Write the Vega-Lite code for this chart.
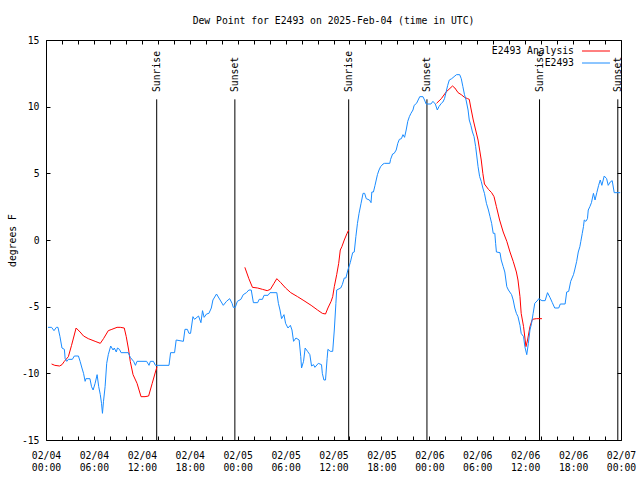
{
  "$schema": "https://vega.github.io/schema/vega-lite/v6.json",
  "width": 575,
  "height": 400,
  "autosize": {"type": "none"},
  "padding": {"left": 46, "top": 40, "right": 19, "bottom": 40},
  "background": "white",
  "title": {"text": "Dew Point for E2493 on 2025-Feb-04 (time in UTC)", "font": "DejaVu Sans Mono", "fontSize": 9.75, "fontWeight": "normal", "color": "black", "baseline": "alphabetic", "offset": 1},
  "config": {
    "view": {"stroke": "black", "strokeWidth": 1},
    "font": "DejaVu Sans Mono",
    "axis": {"labelFont": "DejaVu Sans Mono", "labelFontSize": 9.75, "labelColor": "black", "titleFont": "DejaVu Sans Mono", "titleFontSize": 9.75, "titleFontWeight": "normal", "titleColor": "black", "tickColor": "black", "tickWidth": 1, "domain": false, "grid": false}
  },
  "datasets": {
    "events": [
      {"h": 13.86, "ev": "Sunrise"}, {"h": 23.65, "ev": "Sunset"},
      {"h": 37.9, "ev": "Sunrise"}, {"h": 47.7, "ev": "Sunset"},
      {"h": 61.8, "ev": "Sunrise"}, {"h": 71.6, "ev": "Sunset"}
    ],
    "dew": [
      {"h": 0.7, "v": -9.3, "s": "E2493 Analysis", "g": "a1"},
      {"h": 1.1, "v": -9.4, "s": "E2493 Analysis", "g": "a1"},
      {"h": 1.7, "v": -9.45, "s": "E2493 Analysis", "g": "a1"},
      {"h": 2.0, "v": -9.35, "s": "E2493 Analysis", "g": "a1"},
      {"h": 2.3, "v": -9.1, "s": "E2493 Analysis", "g": "a1"},
      {"h": 2.8, "v": -8.75, "s": "E2493 Analysis", "g": "a1"},
      {"h": 3.2, "v": -7.9, "s": "E2493 Analysis", "g": "a1"},
      {"h": 3.77, "v": -6.6, "s": "E2493 Analysis", "g": "a1"},
      {"h": 4.27, "v": -6.9, "s": "E2493 Analysis", "g": "a1"},
      {"h": 4.7, "v": -7.2, "s": "E2493 Analysis", "g": "a1"},
      {"h": 5.3, "v": -7.4, "s": "E2493 Analysis", "g": "a1"},
      {"h": 6.15, "v": -7.6, "s": "E2493 Analysis", "g": "a1"},
      {"h": 6.8, "v": -7.75, "s": "E2493 Analysis", "g": "a1"},
      {"h": 7.2, "v": -7.4, "s": "E2493 Analysis", "g": "a1"},
      {"h": 7.8, "v": -6.8, "s": "E2493 Analysis", "g": "a1"},
      {"h": 8.25, "v": -6.7, "s": "E2493 Analysis", "g": "a1"},
      {"h": 8.9, "v": -6.55, "s": "E2493 Analysis", "g": "a1"},
      {"h": 9.3, "v": -6.55, "s": "E2493 Analysis", "g": "a1"},
      {"h": 9.8, "v": -6.6, "s": "E2493 Analysis", "g": "a1"},
      {"h": 10.05, "v": -7.25, "s": "E2493 Analysis", "g": "a1"},
      {"h": 10.35, "v": -8.25, "s": "E2493 Analysis", "g": "a1"},
      {"h": 10.55, "v": -9.1, "s": "E2493 Analysis", "g": "a1"},
      {"h": 10.9, "v": -10.1, "s": "E2493 Analysis", "g": "a1"},
      {"h": 11.4, "v": -10.75, "s": "E2493 Analysis", "g": "a1"},
      {"h": 11.9, "v": -11.75, "s": "E2493 Analysis", "g": "a1"},
      {"h": 12.4, "v": -11.75, "s": "E2493 Analysis", "g": "a1"},
      {"h": 12.85, "v": -11.7, "s": "E2493 Analysis", "g": "a1"},
      {"h": 13.3, "v": -10.75, "s": "E2493 Analysis", "g": "a1"},
      {"h": 13.7, "v": -9.9, "s": "E2493 Analysis", "g": "a1"},
      {"h": 13.9, "v": -9.5, "s": "E2493 Analysis", "g": "a1"},
      {"h": 24.9, "v": -2.05, "s": "E2493 Analysis", "g": "a2"},
      {"h": 25.4, "v": -2.9, "s": "E2493 Analysis", "g": "a2"},
      {"h": 25.85, "v": -3.55, "s": "E2493 Analysis", "g": "a2"},
      {"h": 26.5, "v": -3.6, "s": "E2493 Analysis", "g": "a2"},
      {"h": 27.1, "v": -3.7, "s": "E2493 Analysis", "g": "a2"},
      {"h": 27.7, "v": -3.8, "s": "E2493 Analysis", "g": "a2"},
      {"h": 28.1, "v": -3.7, "s": "E2493 Analysis", "g": "a2"},
      {"h": 28.55, "v": -3.25, "s": "E2493 Analysis", "g": "a2"},
      {"h": 28.9, "v": -2.9, "s": "E2493 Analysis", "g": "a2"},
      {"h": 29.4, "v": -3.2, "s": "E2493 Analysis", "g": "a2"},
      {"h": 30.0, "v": -3.6, "s": "E2493 Analysis", "g": "a2"},
      {"h": 30.65, "v": -3.95, "s": "E2493 Analysis", "g": "a2"},
      {"h": 31.5, "v": -4.25, "s": "E2493 Analysis", "g": "a2"},
      {"h": 32.3, "v": -4.55, "s": "E2493 Analysis", "g": "a2"},
      {"h": 33.2, "v": -4.9, "s": "E2493 Analysis", "g": "a2"},
      {"h": 34.0, "v": -5.25, "s": "E2493 Analysis", "g": "a2"},
      {"h": 34.6, "v": -5.5, "s": "E2493 Analysis", "g": "a2"},
      {"h": 35.0, "v": -5.55, "s": "E2493 Analysis", "g": "a2"},
      {"h": 35.3, "v": -5.1, "s": "E2493 Analysis", "g": "a2"},
      {"h": 35.7, "v": -4.6, "s": "E2493 Analysis", "g": "a2"},
      {"h": 35.9, "v": -4.25, "s": "E2493 Analysis", "g": "a2"},
      {"h": 36.1, "v": -3.5, "s": "E2493 Analysis", "g": "a2"},
      {"h": 36.4, "v": -2.6, "s": "E2493 Analysis", "g": "a2"},
      {"h": 36.65, "v": -1.75, "s": "E2493 Analysis", "g": "a2"},
      {"h": 36.85, "v": -0.75, "s": "E2493 Analysis", "g": "a2"},
      {"h": 37.05, "v": -0.5, "s": "E2493 Analysis", "g": "a2"},
      {"h": 37.35, "v": 0.0, "s": "E2493 Analysis", "g": "a2"},
      {"h": 37.7, "v": 0.5, "s": "E2493 Analysis", "g": "a2"},
      {"h": 37.9, "v": 0.75, "s": "E2493 Analysis", "g": "a2"},
      {"h": 48.9, "v": 10.25, "s": "E2493 Analysis", "g": "a3"},
      {"h": 49.5, "v": 10.6, "s": "E2493 Analysis", "g": "a3"},
      {"h": 50.1, "v": 11.1, "s": "E2493 Analysis", "g": "a3"},
      {"h": 50.9, "v": 11.55, "s": "E2493 Analysis", "g": "a3"},
      {"h": 51.2, "v": 11.4, "s": "E2493 Analysis", "g": "a3"},
      {"h": 51.6, "v": 11.05, "s": "E2493 Analysis", "g": "a3"},
      {"h": 52.0, "v": 10.9, "s": "E2493 Analysis", "g": "a3"},
      {"h": 52.4, "v": 10.7, "s": "E2493 Analysis", "g": "a3"},
      {"h": 52.8, "v": 10.6, "s": "E2493 Analysis", "g": "a3"},
      {"h": 53.0, "v": 10.55, "s": "E2493 Analysis", "g": "a3"},
      {"h": 53.2, "v": 9.9, "s": "E2493 Analysis", "g": "a3"},
      {"h": 53.5, "v": 9.0, "s": "E2493 Analysis", "g": "a3"},
      {"h": 53.8, "v": 8.25, "s": "E2493 Analysis", "g": "a3"},
      {"h": 54.1, "v": 7.5, "s": "E2493 Analysis", "g": "a3"},
      {"h": 54.3, "v": 6.75, "s": "E2493 Analysis", "g": "a3"},
      {"h": 54.5, "v": 6.0, "s": "E2493 Analysis", "g": "a3"},
      {"h": 54.7, "v": 5.0, "s": "E2493 Analysis", "g": "a3"},
      {"h": 54.9, "v": 4.2, "s": "E2493 Analysis", "g": "a3"},
      {"h": 55.4, "v": 3.8, "s": "E2493 Analysis", "g": "a3"},
      {"h": 55.8, "v": 3.55, "s": "E2493 Analysis", "g": "a3"},
      {"h": 56.1, "v": 3.25, "s": "E2493 Analysis", "g": "a3"},
      {"h": 56.4, "v": 2.5, "s": "E2493 Analysis", "g": "a3"},
      {"h": 56.8, "v": 1.5, "s": "E2493 Analysis", "g": "a3"},
      {"h": 57.25, "v": 0.6, "s": "E2493 Analysis", "g": "a3"},
      {"h": 57.7, "v": -0.1, "s": "E2493 Analysis", "g": "a3"},
      {"h": 58.1, "v": -0.9, "s": "E2493 Analysis", "g": "a3"},
      {"h": 58.5, "v": -1.6, "s": "E2493 Analysis", "g": "a3"},
      {"h": 58.9, "v": -2.4, "s": "E2493 Analysis", "g": "a3"},
      {"h": 59.1, "v": -3.0, "s": "E2493 Analysis", "g": "a3"},
      {"h": 59.35, "v": -4.25, "s": "E2493 Analysis", "g": "a3"},
      {"h": 59.5, "v": -5.5, "s": "E2493 Analysis", "g": "a3"},
      {"h": 59.8, "v": -6.5, "s": "E2493 Analysis", "g": "a3"},
      {"h": 60.0, "v": -7.5, "s": "E2493 Analysis", "g": "a3"},
      {"h": 60.1, "v": -8.0, "s": "E2493 Analysis", "g": "a3"},
      {"h": 60.3, "v": -7.5, "s": "E2493 Analysis", "g": "a3"},
      {"h": 60.6, "v": -6.5, "s": "E2493 Analysis", "g": "a3"},
      {"h": 60.9, "v": -5.95, "s": "E2493 Analysis", "g": "a3"},
      {"h": 61.4, "v": -5.9, "s": "E2493 Analysis", "g": "a3"},
      {"h": 62.1, "v": -5.9, "s": "E2493 Analysis", "g": "a3"},
      {"h": 0.25, "v": -6.55, "s": "E2493", "g": "b"},
      {"h": 0.7, "v": -6.55, "s": "E2493", "g": "b"},
      {"h": 1.0, "v": -6.8, "s": "E2493", "g": "b"},
      {"h": 1.3, "v": -6.55, "s": "E2493", "g": "b"},
      {"h": 1.5, "v": -6.55, "s": "E2493", "g": "b"},
      {"h": 1.75, "v": -7.25, "s": "E2493", "g": "b"},
      {"h": 2.0, "v": -8.1, "s": "E2493", "g": "b"},
      {"h": 2.3, "v": -8.2, "s": "E2493", "g": "b"},
      {"h": 2.4, "v": -8.9, "s": "E2493", "g": "b"},
      {"h": 2.6, "v": -9.1, "s": "E2493", "g": "b"},
      {"h": 2.8, "v": -8.95, "s": "E2493", "g": "b"},
      {"h": 3.3, "v": -8.95, "s": "E2493", "g": "b"},
      {"h": 3.55, "v": -8.7, "s": "E2493", "g": "b"},
      {"h": 4.06, "v": -8.7, "s": "E2493", "g": "b"},
      {"h": 4.27, "v": -9.1, "s": "E2493", "g": "b"},
      {"h": 4.5, "v": -9.6, "s": "E2493", "g": "b"},
      {"h": 4.7, "v": -10.0, "s": "E2493", "g": "b"},
      {"h": 4.9, "v": -10.6, "s": "E2493", "g": "b"},
      {"h": 5.0, "v": -10.4, "s": "E2493", "g": "b"},
      {"h": 5.5, "v": -10.4, "s": "E2493", "g": "b"},
      {"h": 5.7, "v": -11.0, "s": "E2493", "g": "b"},
      {"h": 5.9, "v": -11.25, "s": "E2493", "g": "b"},
      {"h": 6.15, "v": -10.75, "s": "E2493", "g": "b"},
      {"h": 6.4, "v": -10.1, "s": "E2493", "g": "b"},
      {"h": 6.6, "v": -11.0, "s": "E2493", "g": "b"},
      {"h": 6.8, "v": -11.6, "s": "E2493", "g": "b"},
      {"h": 6.95, "v": -12.25, "s": "E2493", "g": "b"},
      {"h": 7.07, "v": -13.0, "s": "E2493", "g": "b"},
      {"h": 7.2, "v": -12.1, "s": "E2493", "g": "b"},
      {"h": 7.4, "v": -11.0, "s": "E2493", "g": "b"},
      {"h": 7.6, "v": -9.25, "s": "E2493", "g": "b"},
      {"h": 7.8, "v": -8.6, "s": "E2493", "g": "b"},
      {"h": 8.1, "v": -7.95, "s": "E2493", "g": "b"},
      {"h": 8.4, "v": -8.25, "s": "E2493", "g": "b"},
      {"h": 8.55, "v": -8.1, "s": "E2493", "g": "b"},
      {"h": 8.8, "v": -8.4, "s": "E2493", "g": "b"},
      {"h": 8.95, "v": -8.1, "s": "E2493", "g": "b"},
      {"h": 9.2, "v": -8.2, "s": "E2493", "g": "b"},
      {"h": 9.4, "v": -8.45, "s": "E2493", "g": "b"},
      {"h": 10.3, "v": -8.45, "s": "E2493", "g": "b"},
      {"h": 10.55, "v": -8.8, "s": "E2493", "g": "b"},
      {"h": 10.97, "v": -9.1, "s": "E2493", "g": "b"},
      {"h": 11.2, "v": -9.4, "s": "E2493", "g": "b"},
      {"h": 11.4, "v": -9.1, "s": "E2493", "g": "b"},
      {"h": 12.6, "v": -9.1, "s": "E2493", "g": "b"},
      {"h": 12.9, "v": -9.4, "s": "E2493", "g": "b"},
      {"h": 13.07, "v": -9.1, "s": "E2493", "g": "b"},
      {"h": 13.45, "v": -9.1, "s": "E2493", "g": "b"},
      {"h": 13.7, "v": -9.4, "s": "E2493", "g": "b"},
      {"h": 15.4, "v": -9.4, "s": "E2493", "g": "b"},
      {"h": 15.6, "v": -8.45, "s": "E2493", "g": "b"},
      {"h": 16.1, "v": -8.45, "s": "E2493", "g": "b"},
      {"h": 16.3, "v": -7.5, "s": "E2493", "g": "b"},
      {"h": 17.2, "v": -7.6, "s": "E2493", "g": "b"},
      {"h": 17.4, "v": -6.7, "s": "E2493", "g": "b"},
      {"h": 17.7, "v": -6.7, "s": "E2493", "g": "b"},
      {"h": 17.9, "v": -7.0, "s": "E2493", "g": "b"},
      {"h": 18.1, "v": -7.0, "s": "E2493", "g": "b"},
      {"h": 18.4, "v": -5.75, "s": "E2493", "g": "b"},
      {"h": 18.6, "v": -5.95, "s": "E2493", "g": "b"},
      {"h": 18.9, "v": -5.8, "s": "E2493", "g": "b"},
      {"h": 19.1, "v": -5.7, "s": "E2493", "g": "b"},
      {"h": 19.4, "v": -6.2, "s": "E2493", "g": "b"},
      {"h": 19.6, "v": -5.3, "s": "E2493", "g": "b"},
      {"h": 19.8, "v": -5.8, "s": "E2493", "g": "b"},
      {"h": 20.1, "v": -5.55, "s": "E2493", "g": "b"},
      {"h": 20.4, "v": -5.5, "s": "E2493", "g": "b"},
      {"h": 20.7, "v": -5.1, "s": "E2493", "g": "b"},
      {"h": 20.9, "v": -4.5, "s": "E2493", "g": "b"},
      {"h": 21.35, "v": -4.05, "s": "E2493", "g": "b"},
      {"h": 21.8, "v": -4.5, "s": "E2493", "g": "b"},
      {"h": 22.2, "v": -4.9, "s": "E2493", "g": "b"},
      {"h": 22.6, "v": -4.6, "s": "E2493", "g": "b"},
      {"h": 23.0, "v": -4.4, "s": "E2493", "g": "b"},
      {"h": 23.3, "v": -4.75, "s": "E2493", "g": "b"},
      {"h": 23.45, "v": -5.05, "s": "E2493", "g": "b"},
      {"h": 23.7, "v": -5.05, "s": "E2493", "g": "b"},
      {"h": 23.96, "v": -4.6, "s": "E2493", "g": "b"},
      {"h": 24.4, "v": -4.45, "s": "E2493", "g": "b"},
      {"h": 24.7, "v": -4.1, "s": "E2493", "g": "b"},
      {"h": 25.1, "v": -3.95, "s": "E2493", "g": "b"},
      {"h": 25.4, "v": -3.75, "s": "E2493", "g": "b"},
      {"h": 25.7, "v": -3.75, "s": "E2493", "g": "b"},
      {"h": 25.97, "v": -4.7, "s": "E2493", "g": "b"},
      {"h": 26.5, "v": -4.7, "s": "E2493", "g": "b"},
      {"h": 26.7, "v": -4.45, "s": "E2493", "g": "b"},
      {"h": 27.1, "v": -4.45, "s": "E2493", "g": "b"},
      {"h": 27.3, "v": -4.15, "s": "E2493", "g": "b"},
      {"h": 27.8, "v": -4.15, "s": "E2493", "g": "b"},
      {"h": 28.05, "v": -3.95, "s": "E2493", "g": "b"},
      {"h": 28.9, "v": -3.95, "s": "E2493", "g": "b"},
      {"h": 29.1, "v": -4.75, "s": "E2493", "g": "b"},
      {"h": 29.3, "v": -5.25, "s": "E2493", "g": "b"},
      {"h": 29.5, "v": -5.9, "s": "E2493", "g": "b"},
      {"h": 29.8, "v": -5.6, "s": "E2493", "g": "b"},
      {"h": 30.0, "v": -6.25, "s": "E2493", "g": "b"},
      {"h": 30.3, "v": -6.6, "s": "E2493", "g": "b"},
      {"h": 30.6, "v": -6.4, "s": "E2493", "g": "b"},
      {"h": 30.8, "v": -6.75, "s": "E2493", "g": "b"},
      {"h": 31.0, "v": -7.6, "s": "E2493", "g": "b"},
      {"h": 31.3, "v": -7.35, "s": "E2493", "g": "b"},
      {"h": 31.7, "v": -7.5, "s": "E2493", "g": "b"},
      {"h": 31.9, "v": -8.75, "s": "E2493", "g": "b"},
      {"h": 32.0, "v": -9.6, "s": "E2493", "g": "b"},
      {"h": 32.25, "v": -9.1, "s": "E2493", "g": "b"},
      {"h": 32.45, "v": -8.1, "s": "E2493", "g": "b"},
      {"h": 32.75, "v": -8.35, "s": "E2493", "g": "b"},
      {"h": 33.04, "v": -8.6, "s": "E2493", "g": "b"},
      {"h": 33.25, "v": -9.45, "s": "E2493", "g": "b"},
      {"h": 33.5, "v": -9.35, "s": "E2493", "g": "b"},
      {"h": 33.67, "v": -9.55, "s": "E2493", "g": "b"},
      {"h": 34.1, "v": -9.25, "s": "E2493", "g": "b"},
      {"h": 34.5, "v": -9.35, "s": "E2493", "g": "b"},
      {"h": 34.6, "v": -10.0, "s": "E2493", "g": "b"},
      {"h": 34.8, "v": -10.5, "s": "E2493", "g": "b"},
      {"h": 35.0, "v": -10.5, "s": "E2493", "g": "b"},
      {"h": 35.2, "v": -8.9, "s": "E2493", "g": "b"},
      {"h": 35.3, "v": -8.2, "s": "E2493", "g": "b"},
      {"h": 35.6, "v": -8.35, "s": "E2493", "g": "b"},
      {"h": 35.9, "v": -8.35, "s": "E2493", "g": "b"},
      {"h": 36.1, "v": -6.75, "s": "E2493", "g": "b"},
      {"h": 36.3, "v": -4.75, "s": "E2493", "g": "b"},
      {"h": 36.4, "v": -3.75, "s": "E2493", "g": "b"},
      {"h": 36.9, "v": -3.6, "s": "E2493", "g": "b"},
      {"h": 37.1, "v": -3.35, "s": "E2493", "g": "b"},
      {"h": 37.35, "v": -2.85, "s": "E2493", "g": "b"},
      {"h": 37.55, "v": -2.85, "s": "E2493", "g": "b"},
      {"h": 37.8, "v": -2.25, "s": "E2493", "g": "b"},
      {"h": 38.1, "v": -1.7, "s": "E2493", "g": "b"},
      {"h": 38.4, "v": -0.95, "s": "E2493", "g": "b"},
      {"h": 38.6, "v": -0.9, "s": "E2493", "g": "b"},
      {"h": 38.8, "v": 0.25, "s": "E2493", "g": "b"},
      {"h": 39.0, "v": 1.25, "s": "E2493", "g": "b"},
      {"h": 39.2, "v": 2.0, "s": "E2493", "g": "b"},
      {"h": 39.45, "v": 2.75, "s": "E2493", "g": "b"},
      {"h": 39.7, "v": 3.5, "s": "E2493", "g": "b"},
      {"h": 39.9, "v": 3.5, "s": "E2493", "g": "b"},
      {"h": 40.1, "v": 3.1, "s": "E2493", "g": "b"},
      {"h": 40.5, "v": 3.0, "s": "E2493", "g": "b"},
      {"h": 40.7, "v": 2.8, "s": "E2493", "g": "b"},
      {"h": 40.8, "v": 3.6, "s": "E2493", "g": "b"},
      {"h": 41.0, "v": 3.6, "s": "E2493", "g": "b"},
      {"h": 41.2, "v": 4.1, "s": "E2493", "g": "b"},
      {"h": 41.5, "v": 4.9, "s": "E2493", "g": "b"},
      {"h": 41.7, "v": 5.25, "s": "E2493", "g": "b"},
      {"h": 41.9, "v": 5.5, "s": "E2493", "g": "b"},
      {"h": 42.2, "v": 5.7, "s": "E2493", "g": "b"},
      {"h": 42.4, "v": 5.75, "s": "E2493", "g": "b"},
      {"h": 43.05, "v": 5.75, "s": "E2493", "g": "b"},
      {"h": 43.15, "v": 6.05, "s": "E2493", "g": "b"},
      {"h": 43.4, "v": 6.45, "s": "E2493", "g": "b"},
      {"h": 43.6, "v": 6.5, "s": "E2493", "g": "b"},
      {"h": 43.85, "v": 6.75, "s": "E2493", "g": "b"},
      {"h": 44.05, "v": 7.25, "s": "E2493", "g": "b"},
      {"h": 44.25, "v": 7.55, "s": "E2493", "g": "b"},
      {"h": 44.5, "v": 7.6, "s": "E2493", "g": "b"},
      {"h": 44.7, "v": 7.9, "s": "E2493", "g": "b"},
      {"h": 44.9, "v": 7.7, "s": "E2493", "g": "b"},
      {"h": 45.1, "v": 8.25, "s": "E2493", "g": "b"},
      {"h": 45.3, "v": 8.9, "s": "E2493", "g": "b"},
      {"h": 45.5, "v": 9.25, "s": "E2493", "g": "b"},
      {"h": 45.7, "v": 9.5, "s": "E2493", "g": "b"},
      {"h": 45.95, "v": 9.75, "s": "E2493", "g": "b"},
      {"h": 46.1, "v": 10.1, "s": "E2493", "g": "b"},
      {"h": 46.4, "v": 10.25, "s": "E2493", "g": "b"},
      {"h": 46.6, "v": 10.5, "s": "E2493", "g": "b"},
      {"h": 46.8, "v": 10.75, "s": "E2493", "g": "b"},
      {"h": 47.2, "v": 10.75, "s": "E2493", "g": "b"},
      {"h": 47.4, "v": 10.5, "s": "E2493", "g": "b"},
      {"h": 47.6, "v": 10.2, "s": "E2493", "g": "b"},
      {"h": 48.2, "v": 10.2, "s": "E2493", "g": "b"},
      {"h": 48.45, "v": 10.4, "s": "E2493", "g": "b"},
      {"h": 48.75, "v": 10.2, "s": "E2493", "g": "b"},
      {"h": 49.0, "v": 9.75, "s": "E2493", "g": "b"},
      {"h": 49.2, "v": 10.0, "s": "E2493", "g": "b"},
      {"h": 49.5, "v": 10.25, "s": "E2493", "g": "b"},
      {"h": 49.7, "v": 10.35, "s": "E2493", "g": "b"},
      {"h": 49.9, "v": 10.6, "s": "E2493", "g": "b"},
      {"h": 50.1, "v": 11.1, "s": "E2493", "g": "b"},
      {"h": 50.3, "v": 11.6, "s": "E2493", "g": "b"},
      {"h": 50.5, "v": 12.0, "s": "E2493", "g": "b"},
      {"h": 50.8, "v": 12.1, "s": "E2493", "g": "b"},
      {"h": 51.1, "v": 12.25, "s": "E2493", "g": "b"},
      {"h": 51.4, "v": 12.4, "s": "E2493", "g": "b"},
      {"h": 51.8, "v": 12.4, "s": "E2493", "g": "b"},
      {"h": 52.0, "v": 12.1, "s": "E2493", "g": "b"},
      {"h": 52.2, "v": 11.5, "s": "E2493", "g": "b"},
      {"h": 52.4, "v": 10.9, "s": "E2493", "g": "b"},
      {"h": 52.6, "v": 10.5, "s": "E2493", "g": "b"},
      {"h": 52.85, "v": 9.75, "s": "E2493", "g": "b"},
      {"h": 53.0, "v": 9.0, "s": "E2493", "g": "b"},
      {"h": 53.2, "v": 8.6, "s": "E2493", "g": "b"},
      {"h": 53.4, "v": 8.1, "s": "E2493", "g": "b"},
      {"h": 53.6, "v": 7.75, "s": "E2493", "g": "b"},
      {"h": 53.8, "v": 7.0, "s": "E2493", "g": "b"},
      {"h": 54.0, "v": 6.0, "s": "E2493", "g": "b"},
      {"h": 54.1, "v": 5.5, "s": "E2493", "g": "b"},
      {"h": 54.3, "v": 4.75, "s": "E2493", "g": "b"},
      {"h": 54.5, "v": 4.4, "s": "E2493", "g": "b"},
      {"h": 54.7, "v": 3.9, "s": "E2493", "g": "b"},
      {"h": 54.9, "v": 3.5, "s": "E2493", "g": "b"},
      {"h": 55.15, "v": 2.75, "s": "E2493", "g": "b"},
      {"h": 55.4, "v": 2.25, "s": "E2493", "g": "b"},
      {"h": 55.6, "v": 1.75, "s": "E2493", "g": "b"},
      {"h": 55.8, "v": 1.25, "s": "E2493", "g": "b"},
      {"h": 56.0, "v": 0.5, "s": "E2493", "g": "b"},
      {"h": 56.2, "v": 0.5, "s": "E2493", "g": "b"},
      {"h": 56.3, "v": -0.25, "s": "E2493", "g": "b"},
      {"h": 56.4, "v": -0.9, "s": "E2493", "g": "b"},
      {"h": 56.85, "v": -0.95, "s": "E2493", "g": "b"},
      {"h": 57.0, "v": -1.5, "s": "E2493", "g": "b"},
      {"h": 57.25, "v": -2.0, "s": "E2493", "g": "b"},
      {"h": 57.45, "v": -2.4, "s": "E2493", "g": "b"},
      {"h": 57.7, "v": -3.5, "s": "E2493", "g": "b"},
      {"h": 57.9, "v": -3.75, "s": "E2493", "g": "b"},
      {"h": 58.3, "v": -4.1, "s": "E2493", "g": "b"},
      {"h": 58.5, "v": -4.5, "s": "E2493", "g": "b"},
      {"h": 58.7, "v": -5.1, "s": "E2493", "g": "b"},
      {"h": 58.9, "v": -5.5, "s": "E2493", "g": "b"},
      {"h": 59.1, "v": -5.75, "s": "E2493", "g": "b"},
      {"h": 59.35, "v": -6.4, "s": "E2493", "g": "b"},
      {"h": 59.5, "v": -7.0, "s": "E2493", "g": "b"},
      {"h": 59.8, "v": -7.25, "s": "E2493", "g": "b"},
      {"h": 59.96, "v": -8.0, "s": "E2493", "g": "b"},
      {"h": 60.2, "v": -8.6, "s": "E2493", "g": "b"},
      {"h": 60.4, "v": -7.75, "s": "E2493", "g": "b"},
      {"h": 60.6, "v": -6.75, "s": "E2493", "g": "b"},
      {"h": 60.8, "v": -6.25, "s": "E2493", "g": "b"},
      {"h": 61.0, "v": -5.5, "s": "E2493", "g": "b"},
      {"h": 61.2, "v": -4.75, "s": "E2493", "g": "b"},
      {"h": 61.6, "v": -4.5, "s": "E2493", "g": "b"},
      {"h": 61.7, "v": -4.4, "s": "E2493", "g": "b"},
      {"h": 62.1, "v": -4.55, "s": "E2493", "g": "b"},
      {"h": 62.5, "v": -4.55, "s": "E2493", "g": "b"},
      {"h": 62.8, "v": -3.95, "s": "E2493", "g": "b"},
      {"h": 63.1, "v": -4.3, "s": "E2493", "g": "b"},
      {"h": 63.4, "v": -4.7, "s": "E2493", "g": "b"},
      {"h": 63.7, "v": -5.1, "s": "E2493", "g": "b"},
      {"h": 64.2, "v": -5.1, "s": "E2493", "g": "b"},
      {"h": 64.4, "v": -4.8, "s": "E2493", "g": "b"},
      {"h": 65.0, "v": -4.8, "s": "E2493", "g": "b"},
      {"h": 65.2, "v": -3.9, "s": "E2493", "g": "b"},
      {"h": 65.45, "v": -3.85, "s": "E2493", "g": "b"},
      {"h": 65.7, "v": -3.1, "s": "E2493", "g": "b"},
      {"h": 66.05, "v": -2.6, "s": "E2493", "g": "b"},
      {"h": 66.2, "v": -2.25, "s": "E2493", "g": "b"},
      {"h": 66.45, "v": -1.6, "s": "E2493", "g": "b"},
      {"h": 66.65, "v": -0.9, "s": "E2493", "g": "b"},
      {"h": 66.85, "v": -0.5, "s": "E2493", "g": "b"},
      {"h": 66.97, "v": -0.1, "s": "E2493", "g": "b"},
      {"h": 67.15, "v": 0.5, "s": "E2493", "g": "b"},
      {"h": 67.3, "v": 1.0, "s": "E2493", "g": "b"},
      {"h": 67.4, "v": 1.5, "s": "E2493", "g": "b"},
      {"h": 67.6, "v": 1.4, "s": "E2493", "g": "b"},
      {"h": 67.8, "v": 1.6, "s": "E2493", "g": "b"},
      {"h": 67.9, "v": 2.25, "s": "E2493", "g": "b"},
      {"h": 68.1, "v": 2.5, "s": "E2493", "g": "b"},
      {"h": 68.3, "v": 2.8, "s": "E2493", "g": "b"},
      {"h": 68.55, "v": 3.5, "s": "E2493", "g": "b"},
      {"h": 68.75, "v": 3.0, "s": "E2493", "g": "b"},
      {"h": 68.97, "v": 3.55, "s": "E2493", "g": "b"},
      {"h": 69.2, "v": 4.1, "s": "E2493", "g": "b"},
      {"h": 69.4, "v": 4.5, "s": "E2493", "g": "b"},
      {"h": 69.6, "v": 4.1, "s": "E2493", "g": "b"},
      {"h": 69.9, "v": 4.8, "s": "E2493", "g": "b"},
      {"h": 70.2, "v": 4.6, "s": "E2493", "g": "b"},
      {"h": 70.4, "v": 4.1, "s": "E2493", "g": "b"},
      {"h": 70.65, "v": 4.35, "s": "E2493", "g": "b"},
      {"h": 70.9, "v": 4.45, "s": "E2493", "g": "b"},
      {"h": 71.15, "v": 3.55, "s": "E2493", "g": "b"},
      {"h": 71.9, "v": 3.55, "s": "E2493", "g": "b"}
    ]
  },
  "layer": [
    {
      "data": {"name": "events"},
      "mark": {"type": "rule", "color": "black", "strokeWidth": 1},
      "encoding": {
        "x": {"field": "h", "type": "quantitative", "scale": {"domain": [0, 72], "nice": false, "zero": false},
          "axis": {"orient": "bottom", "title": null, "values": [0,2,4,6,8,10,12,14,16,18,20,22,24,26,28,30,32,34,36,38,40,42,44,46,48,50,52,54,56,58,60,62,64,66,68,70,72], "tickSize": -4, "labelPadding": 14, "labelBaseline": "top", "labelLineHeight": 12, "labelFlush": false, "labelOverlap": false,
            "labelExpr": "datum.value % 6 == 0 ? ['02/0' + (4 + floor(datum.value / 24)), (datum.value % 24 < 10 ? '0' : '') + (datum.value % 24) + ':00'] : ''"}},
        "y": {"datum": 10.55, "type": "quantitative", "scale": {"domain": [-15, 15], "nice": false, "zero": false},
          "axis": {"orient": "left", "title": "degrees F", "values": [-15,-10,-5,0,5,10,15], "tickSize": -4, "labelPadding": 11, "labelExpr": "toString(datum.value)", "titlePadding": 4}},
        "y2": {"datum": -15}
      }
    },
    {
      "data": {"name": "events"},
      "mark": {"type": "text", "angle": 270, "align": "left", "baseline": "middle", "font": "DejaVu Sans Mono", "fontSize": 9.75, "color": "black"},
      "encoding": {
        "x": {"field": "h", "type": "quantitative",
          "axis": {"orient": "top", "title": null, "values": [0,2,4,6,8,10,12,14,16,18,20,22,24,26,28,30,32,34,36,38,40,42,44,46,48,50,52,54,56,58,60,62,64,66,68,70,72], "tickSize": -4, "labels": false}},
        "y": {"datum": 11.1, "type": "quantitative",
          "axis": {"orient": "right", "title": null, "values": [-15,-10,-5,0,5,10,15], "tickSize": -4, "labels": false}},
        "text": {"field": "ev"}
      }
    },
    {
      "data": {"name": "dew"},
      "mark": {"type": "line", "strokeWidth": 1},
      "encoding": {
        "x": {"field": "h", "type": "quantitative", "axis": null},
        "y": {"field": "v", "type": "quantitative", "axis": null},
        "detail": {"field": "g"},
        "color": {"field": "s", "type": "nominal",
          "scale": {"domain": ["E2493 Analysis", "E2493"], "range": ["#ff0000", "#1a8cff"]},
          "legend": {"orient": "none", "legendX": 543.5, "legendY": 4.5, "title": null, "symbolType": "M-2.5,0H2.5", "symbolSize": 125, "symbolStrokeWidth": 1, "labelAlign": "right", "labelOffset": -28.5, "labelFont": "DejaVu Sans Mono", "labelFontSize": 9.75, "labelColor": "black", "rowPadding": 0, "padding": 0}}
      }
    }
  ],
  "resolve": {"axis": {"x": "independent", "y": "independent"}}
}
